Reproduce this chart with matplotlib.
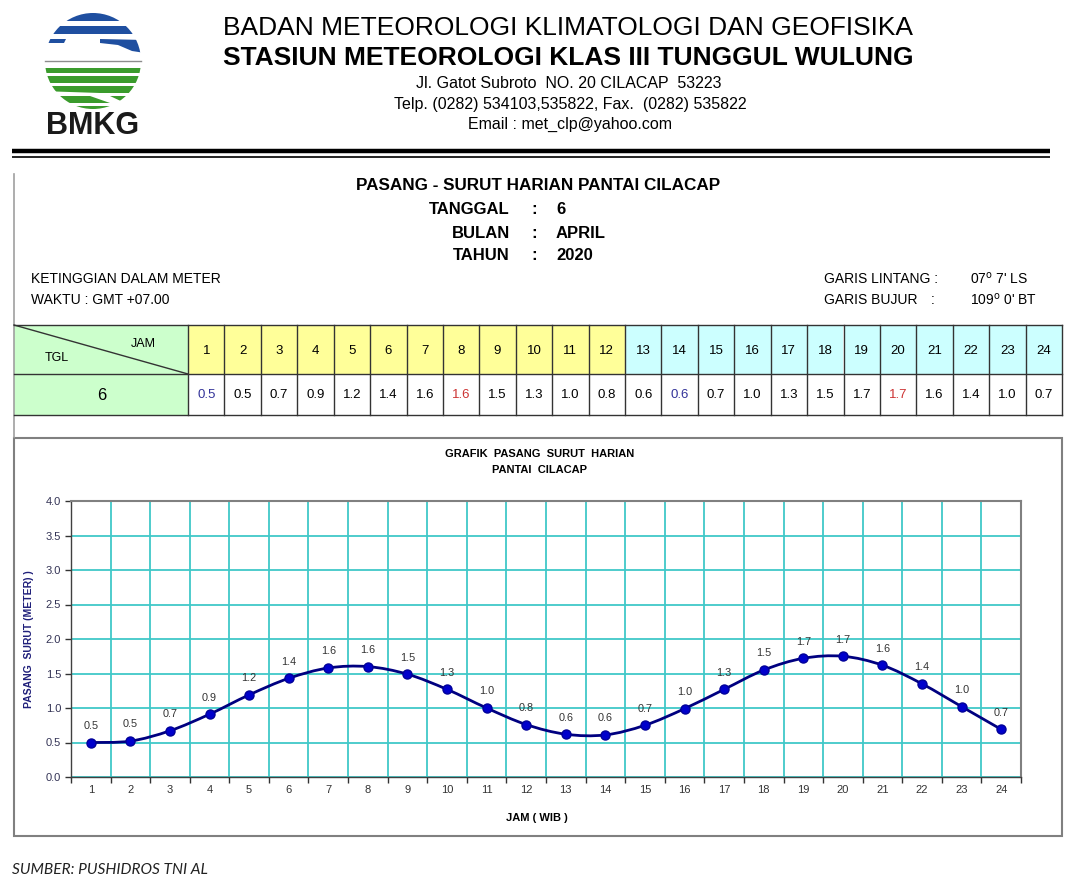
import numpy as np
import matplotlib.pyplot as plt
from matplotlib.patches import Rectangle, Circle, Polygon, PathPatch
from matplotlib.path import Path

plt.rcParams['font.family'] = ['Liberation Sans', 'DejaVu Sans']

# data
hours = list(range(1, 25))
# heights as drawn on the curve
tide_level = [0.50, 0.52, 0.67, 0.91, 1.19, 1.43, 1.58, 1.60, 1.49, 1.27, 1.00, 0.76,
              0.62, 0.61, 0.75, 0.99, 1.27, 1.55, 1.72, 1.75, 1.62, 1.35, 1.02, 0.69]
# heights as printed in the table and data labels
tide_table = [0.5, 0.5, 0.7, 0.9, 1.2, 1.4, 1.6, 1.6, 1.5, 1.3, 1.0, 0.8,
              0.6, 0.6, 0.7, 1.0, 1.3, 1.5, 1.7, 1.7, 1.6, 1.4, 1.0, 0.7]
low_hours = [1, 14]
high_hours = [8, 20]
day = 6
month = "APRIL"
year = 2020
y_ticks = [0.0, 0.5, 1.0, 1.5, 2.0, 2.5, 3.0, 3.5, 4.0]

fig = plt.figure(figsize=(10.8, 8.9), dpi=100)

# background axes in pixel coords for the letterhead, table and frames
bg = fig.add_axes([0, 0, 1, 1])
bg.set_xlim(0, 1080)
bg.set_ylim(890, 0)
bg.axis('off')

# --- BMKG logo (simplified) ---
clip = Circle((93, 61), 48, transform=bg.transData)
blue = '#1f4fa0'
green = '#3a9b2c'
logo = [
    Rectangle((40, 12), 110, 9, fc=blue),
    Rectangle((40, 26), 110, 8, fc=blue),
    Polygon([(40, 39), (66, 39), (64, 43), (40, 43)], fc=blue),
    Polygon([(100, 39), (145, 40), (145, 53), (132, 51), (118, 45), (100, 43)], fc=blue),
    Rectangle((40, 68), 110, 5, fc=green),
    Rectangle((40, 76), 110, 7, fc=green),
    Polygon([(40, 86), (150, 86), (150, 93), (100, 93), (40, 91)], fc=green),
    Polygon([(40, 96), (90, 96), (110, 103), (40, 103)], fc=green),
    Polygon([(110, 96), (150, 96), (150, 103), (125, 103)], fc=green),
    Rectangle((40, 106), 110, 8, fc=green),
]
for p in logo:
    p.set_linewidth(0)
    bg.add_patch(p)
    p.set_clip_path(clip)
bg.plot([45, 141], [61, 61], color='#8c8c8c', lw=1)
bg.text(93, 126, "BMKG", ha='center', va='center', fontsize=22, weight='bold', color='#1a1a1a')

# --- letterhead ---
bg.text(568, 28, "BADAN METEOROLOGI KLIMATOLOGI DAN GEOFISIKA", ha='center', va='center', fontsize=19)
bg.text(568, 58, "STASIUN METEOROLOGI KLAS III TUNGGUL WULUNG", ha='center', va='center',
        fontsize=19, weight='bold')
bg.text(569, 84, "Jl. Gatot Subroto  NO. 20 CILACAP  53223", ha='center', va='center', fontsize=11.5)
bg.text(570, 104, "Telp. (0282) 534103,535822, Fax.  (0282) 535822", ha='center', va='center', fontsize=11.5)
bg.text(570, 124, "Email : met_clp@yahoo.com", ha='center', va='center', fontsize=11.5)
bg.plot([12, 1050], [151, 151], color='black', lw=3.2, solid_capstyle='butt')
bg.plot([12, 1050], [157, 157], color='black', lw=1.2, solid_capstyle='butt')

# --- info block ---
bg.plot([14, 14], [174, 437], color='#a0a0a0', lw=1.2)
bg.text(538, 186, "PASANG - SURUT HARIAN PANTAI CILACAP", ha='center', va='center',
        fontsize=12.3, weight='bold')
info = [("TANGGAL", str(day)), ("BULAN", month), ("TAHUN", str(year))]
for k, (name, val) in enumerate(info):
    yy = 210 + k * 23
    bg.text(510, yy, name, ha='right', va='center', fontsize=12, weight='bold')
    bg.text(534, yy, ":", ha='center', va='center', fontsize=12, weight='bold')
    bg.text(556, yy, val, ha='left', va='center', fontsize=12, weight='bold')

bg.text(31, 279, "KETINGGIAN DALAM METER", ha='left', va='center', fontsize=10)
bg.text(31, 300, "WAKTU : GMT +07.00", ha='left', va='center', fontsize=10)
bg.text(824, 279, "GARIS LINTANG :", ha='left', va='center', fontsize=10)
bg.text(824, 300, "GARIS BUJUR", ha='left', va='center', fontsize=10)
bg.text(933, 300, ":", ha='center', va='center', fontsize=10)
bg.text(970, 279, "07$^{\\mathsf{o}}$ 7' LS", ha='left', va='center', fontsize=10)
bg.text(970, 300, "109$^{\\mathsf{o}}$ 0' BT", ha='left', va='center', fontsize=10)

# --- hourly table ---
t_left, t_x0, t_right = 14, 188, 1062
t_top, t_mid, t_bot = 325, 374, 415
cw = (t_right - t_x0) / len(hours)
bg.add_patch(Rectangle((t_left, t_top), t_x0 - t_left, t_bot - t_top, fc='#ccffcc', lw=0))
for i, h in enumerate(hours):
    cx = t_x0 + i * cw
    fc = '#ffff99' if h <= 12 else '#ccffff'
    bg.add_patch(Rectangle((cx, t_top), cw, t_mid - t_top, fc=fc, lw=0))
    bg.text(cx + cw / 2, 351, str(h), ha='center', va='center', fontsize=9.5)
    col = '#333399' if h in low_hours else ('#cc3333' if h in high_hours else 'black')
    bg.text(cx + cw / 2, 395, f"{tide_table[i]:.1f}", ha='center', va='center', fontsize=9.5, color=col)
    bg.plot([cx, cx], [t_top, t_bot], color='#333333', lw=1)
bg.plot([t_right, t_right], [t_top, t_bot], color='#333333', lw=1)
for yy in (t_top, t_mid, t_bot):
    bg.plot([t_left, t_right], [yy, yy], color='#333333', lw=1)
bg.plot([t_left, t_x0], [t_top, t_mid], color='#333333', lw=1)
bg.text(143, 344, "JAM", ha='center', va='center', fontsize=9)
bg.text(57, 358, "TGL", ha='center', va='center', fontsize=9)
bg.text(102, 395, str(day), ha='center', va='center', fontsize=12)

# --- chart frame and titles ---
bg.add_patch(Rectangle((14, 438), 1048, 398, fill=False, ec='#808080', lw=1.5))
bg.text(540, 454, "GRAFIK  PASANG  SURUT  HARIAN", ha='center', va='center', fontsize=8, weight='bold')
bg.text(540, 470, "PANTAI  CILACAP", ha='center', va='center', fontsize=8, weight='bold')
bg.text(29, 639, "PASANG  SURUT (METER) )", rotation=90, ha='center', va='center',
        fontsize=7.5, weight='bold', color='#1f1f7a')
bg.text(537, 818, "JAM ( WIB )", ha='center', va='center', fontsize=8, weight='bold')
bg.text(12, 870, "SUMBER: PUSHIDROS TNI AL", ha='left', va='center', fontsize=11.2,
        style='italic', family=['Lato', 'DejaVu Sans'], color='#222222')

# --- tide chart ---
ax = fig.add_axes([71 / 1080, 1 - 777 / 890, 950 / 1080, 276 / 890])
ax.set_xlim(0.5, 24.5)
ax.set_ylim(0, 4)
ax.set_xticks(hours)
ax.set_xticklabels([str(h) for h in hours])
ax.set_xticks(np.arange(0.5, 25, 1), minor=True)
ax.set_yticks(y_ticks)
ax.set_yticklabels([f"{v:.1f}" for v in y_ticks])
ax.tick_params(axis='x', which='major', length=0, pad=6, labelsize=8, labelcolor='#333333')
ax.tick_params(axis='x', which='minor', length=4, width=1, direction='out', color='#333333')
ax.tick_params(axis='y', which='major', length=4, width=1, direction='out', pad=3,
               labelsize=8, labelcolor='#333355', color='#333333')
ax.grid(True, which='minor', axis='x', color='#40c8c8', lw=1.3)
ax.grid(True, which='major', axis='y', color='#40c8c8', lw=1.3)
ax.set_axisbelow(True)
for s in ('top', 'right'):
    ax.spines[s].set_color('#808080')
    ax.spines[s].set_linewidth(1.5)
for s in ('left', 'bottom'):
    ax.spines[s].set_color('#404040')
    ax.spines[s].set_linewidth(1)

# smoothed line, Excel style bezier through the points
pts = np.column_stack([hours, tide_level]).astype(float)
n = len(pts)
verts = [tuple(pts[0])]
codes = [Path.MOVETO]
for i in range(n - 1):
    p0 = pts[i - 1] if i > 0 else pts[i]
    p3 = pts[i + 2] if i + 2 < n else pts[i + 1]
    c1 = pts[i] + (pts[i + 1] - p0) / 6
    c2 = pts[i + 1] - (p3 - pts[i]) / 6
    verts += [tuple(c1), tuple(c2), tuple(pts[i + 1])]
    codes += [Path.CURVE4] * 3
ax.add_patch(PathPatch(Path(verts, codes), fill=False, ec='#000080', lw=2, zorder=3))
ax.plot(hours, tide_level, 'o', ms=6.5, mfc='#0000cc', mec='#000099', zorder=4)
for h, v, t in zip(hours, tide_level, tide_table):
    ax.annotate(f"{t:.1f}", (h, v), xytext=(0, 12), textcoords='offset points',
                ha='center', va='center', fontsize=7.8, color='#333333')

fig.savefig("out.png", dpi=100)
